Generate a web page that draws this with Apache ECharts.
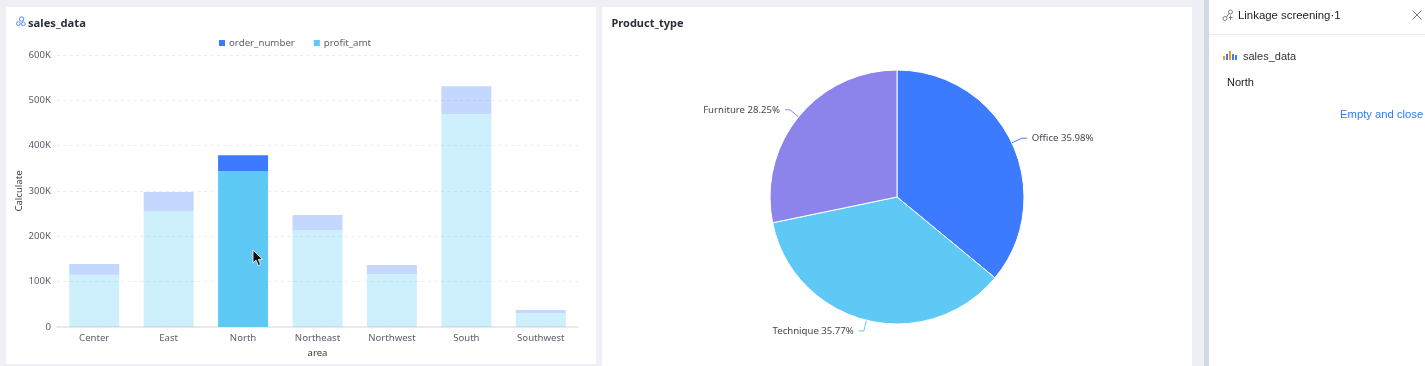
<!DOCTYPE html>
<html><head><meta charset="utf-8">
<script src="https://cdn.jsdelivr.net/npm/echarts@6/dist/echarts.min.js"></script>
<style>
html,body{margin:0;padding:0;width:1425px;height:366px;overflow:hidden;background:#eef0f5;font-family:"Noto Sans",sans-serif}
.panel{position:absolute;background:#fff}
.t{position:absolute;white-space:nowrap;color:#2b2f36}
#chart{position:absolute;left:0;top:0;width:1425px;height:366px}
svg{position:absolute}
</style></head><body>
<div class="panel" style="left:6px;top:7px;width:590px;height:357px"></div>
<div class="panel" style="left:602px;top:7px;width:590px;height:359px"></div>
<div class="panel" style="left:1204px;top:0;width:5px;height:366px;background:#d3d8e4"></div>
<div class="panel" style="left:1209px;top:0;width:216px;height:366px"></div>
<div style="position:absolute;left:1209px;top:34px;width:216px;height:1px;background:#eceef2"></div>
<div id="chart"></div>
<div class="t" style="left:28px;top:13.5px;font-size:11.2px;font-weight:700;line-height:17px">sales_data</div>
<svg style="left:16px;top:16px" width="10" height="11" viewBox="0 0 10 11" fill="none" stroke="#4a80f0" stroke-width=".9"><circle cx="5.6" cy="3" r="2.2"/><circle cx="2.4" cy="7.6" r="1.9"/><circle cx="7.4" cy="7.8" r="1.9"/></svg>
<div class="t" style="left:611.5px;top:13.5px;font-size:11px;font-weight:700;line-height:17px">Product_type</div>
<svg style="left:1222px;top:9px" width="12" height="13" viewBox="0 0 12 13" fill="none" stroke="#666" stroke-width=".8"><circle cx="3" cy="9.5" r="2"/><circle cx="8.5" cy="3" r="2"/><path d="M4.5 8L7 4.5M8.5 6.5V11M7 8.5H10.5"/></svg>
<div class="t" style="left:1238px;top:7px;font:11.4px/17px 'Liberation Sans',sans-serif;color:#222">Linkage screening·1</div>
<svg style="left:1412px;top:10px" width="10" height="10" viewBox="0 0 10 10" stroke="#666" stroke-width=".9"><path d="M.5 .5L9.5 9.5M9.5 .5L.5 9.5"/></svg>
<svg style="left:1222px;top:50px" width="16" height="11" viewBox="0 0 16 11"><rect x="1" y="6" width="2" height="4" fill="#f59a23"/><rect x="4" y="4" width="2" height="6" fill="#3c7aff"/><rect x="7" y="1" width="2" height="9" fill="#f59a23"/><rect x="10" y="4" width="2" height="6" fill="#3c7aff"/><rect x="13" y="5" width="2" height="5" fill="#3c7aff"/></svg>
<div class="t" style="left:1243px;top:48px;font:11px/17px 'Liberation Sans',sans-serif;color:#333">sales_data</div>
<div class="t" style="left:1227px;top:74px;font:11px/17px 'Liberation Sans',sans-serif;color:#222">North</div>
<div class="t" style="left:1340px;top:106px;font:11.25px/17px 'Liberation Sans',sans-serif;color:#2f7bf6">Empty and close</div>
<svg style="left:252px;top:249px" width="12" height="18" viewBox="0 0 12 18"><path d="M1 1V14L4 11.2L6.3 16.5L8.6 15.5L6.3 10.5H10.5Z" fill="#111" stroke="#fff" stroke-width=".8"/></svg>
<script>
const categories=['Center','East','North','Northeast','Northwest','South','Southwest'];
const orderNumber=[24,42,35,33,20,61,6.5];
const profitAmt=[115,256,344,214,117,470,31];
const selectedArea='North';
const yTicks=[0,100,200,300,400,500,600];
const productTypes=['Office','Technique','Furniture'];
const productShares=[35.98,35.77,28.25];
const blue='#3c7aff',cyan='#5ec9f4',purple='#8d84eb';
const txt='#5c6068';
const fs=9.6;
const mark=(arr,c)=>arr.map((v,i)=>({value:v*1000,itemStyle:{color:c,opacity:categories[i]===selectedArea?1:0.3}}));
const chart=echarts.init(document.getElementById('chart'),null,{renderer:'canvas'});
chart.setOption({
 animation:false,backgroundColor:'transparent',
 textStyle:{fontFamily:'"Noto Sans",sans-serif'},
 legend:{data:['order_number','profit_amt'],top:38,left:219,padding:0,itemWidth:6,itemHeight:6,itemGap:19,icon:'rect',
   textStyle:{fontSize:9.7,color:txt,padding:[0,0,0,-1]}},
 grid:{left:57,top:55,width:521,height:272,outerBoundsMode:'none'},
 xAxis:{type:'category',data:categories,name:'area',nameLocation:'middle',nameGap:19,
   nameTextStyle:{fontSize:fs,color:'#3a3d44'},
   axisTick:{show:false},axisLine:{lineStyle:{color:'#e4e5e8',width:1.5}},
   axisLabel:{fontSize:fs,color:txt,margin:6}},
 yAxis:{type:'value',min:0,max:600000,interval:100000,name:'Calculate',nameLocation:'middle',nameGap:31,
   nameTextStyle:{fontSize:fs,color:'#3a3d44'},
   axisLine:{show:false},axisTick:{show:false},
   splitLine:{lineStyle:{color:'#ebecef',type:[3,3.4],width:1}},
   axisLabel:{fontSize:fs,color:txt,margin:6,formatter:v=>v===0?'0':(v/1000)+'K'}},
 series:[
  {name:'profit_amt',type:'bar',stack:'a',barWidth:50,data:mark(profitAmt,cyan),itemStyle:{color:cyan}},
  {name:'order_number',type:'bar',stack:'a',barWidth:50,data:mark(orderNumber,blue),itemStyle:{color:blue}},
  {type:'pie',center:[897,197],radius:[0,127],startAngle:90,clockwise:true,
   data:productTypes.map((n,i)=>({name:n,value:productShares[i],itemStyle:{color:[blue,cyan,purple][i]}})),
   itemStyle:{borderColor:'#fff',borderWidth:1},
   label:{formatter:p=>p.name+' '+p.value.toFixed(2)+'%',fontSize:fs,color:'#44474e',distance:3},
   labelLine:{length:11,length2:5,lineStyle:{width:1}}}
 ]
});
</script>
</body></html>
